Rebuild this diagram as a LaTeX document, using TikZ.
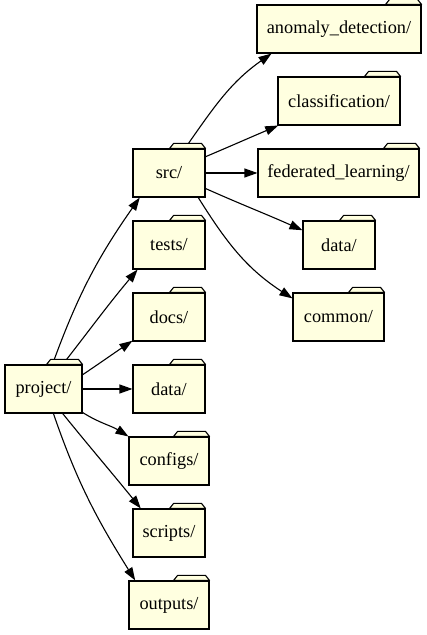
\documentclass[tikz,border=0pt]{standalone}
\usepackage{fontspec}
\setmainfont{Liberation Serif}
\newfontfamily\timesfont{Liberation Serif}
\usetikzlibrary{arrows.meta}
\definecolor{fillyellow}{HTML}{FFFFE0}
\tikzset{
  folder/.style={draw=black, fill=fillyellow, line width=1.1pt, minimum height=48pt, inner sep=0pt, font=\timesfont\fontsize{18.3}{20}\selectfont},
  foldertab/.style={draw=black, fill=fillyellow, line width=1.1pt, line join=round},
  edge/.style={draw=black, line width=1.1pt, -{Triangle[length=13pt,width=9pt]}},
}
\newcommand\foldertabof[1]{\filldraw[foldertab] ([xshift=-36pt]#1.north east) -- ([xshift=-32pt,yshift=5pt]#1.north east) -- ([xshift=-4pt,yshift=5pt]#1.north east) -- (#1.north east) -- cycle;}
\begin{document}
\begin{tikzpicture}[x=1pt,y=1pt]
\useasboundingbox (0,0) rectangle (427,635);
% nodes
\node[folder, minimum width=77pt] (project) at (43.5,246) {project/};
\node[folder, minimum width=72pt] (src) at (169,462) {src/};
\node[folder, minimum width=72pt] (tests) at (169,390) {tests/};
\node[folder, minimum width=72pt] (docs) at (169,318) {docs/};
\node[folder, minimum width=72pt] (data) at (169,246) {data/};
\node[folder, minimum width=80pt] (configs) at (169,174) {configs/};
\node[folder, minimum width=72pt] (scripts) at (169,102) {scripts/};
\node[folder, minimum width=80pt] (outputs) at (169,30) {outputs/};
\node[folder, minimum width=164pt] (anomaly) at (339,606) {anomaly\_detection/};
\node[folder, minimum width=122pt] (classif) at (339,534) {classification/};
\node[folder, minimum width=161pt] (fed) at (338.5,462) {federated\_learning/};
\node[folder, minimum width=72pt] (srcdata) at (339,390) {data/};
\node[folder, minimum width=91pt] (common) at (338.5,318) {common/};
% edges
\draw[edge] (project.70) to[out=70,in=235] (src.220);
\draw[edge] (project.52) to[out=52,in=230] (tests.218);
\draw[edge] (project.20) to[out=34,in=214] (docs.213);
\draw[edge] (project.east) -- (data.west);
\draw[edge] (project.-31) to[out=-32,in=148] (configs.north west);
\draw[edge] (project.-52) to[out=-51,in=129] (scripts.139);
\draw[edge] (project.-68) to[out=-71,in=122] (outputs.144);
\draw[edge] (src.57) to[out=55,in=215] (anomaly.200);
\draw[edge] (src.24) to[out=23,in=203] (classif.202);
\draw[edge] (src.east) -- (fed.west);
\draw[edge] (src.-23) to[out=-24,in=156] (srcdata.158);
\draw[edge] (src.-40) to[out=-58,in=147] (common.158);
% tabs
\foldertabof{project}
\foldertabof{src}
\foldertabof{tests}
\foldertabof{docs}
\foldertabof{data}
\foldertabof{configs}
\foldertabof{scripts}
\foldertabof{outputs}
\foldertabof{anomaly}
\foldertabof{classif}
\foldertabof{fed}
\foldertabof{srcdata}
\foldertabof{common}
\end{tikzpicture}
\end{document}
